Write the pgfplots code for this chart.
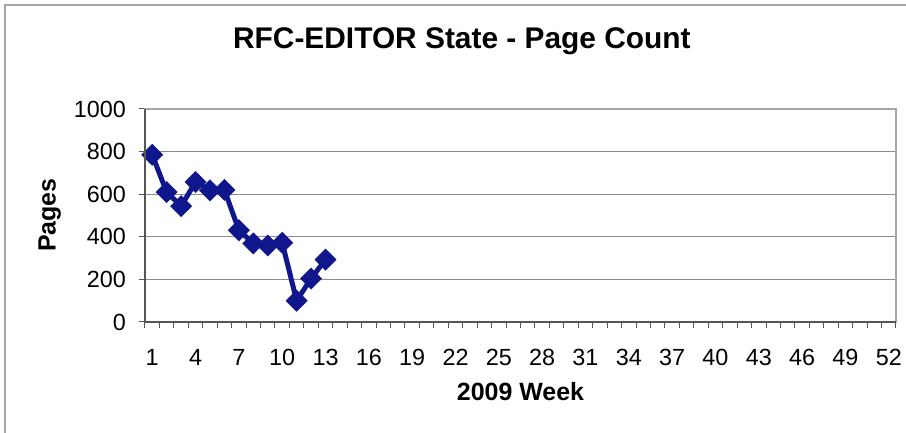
\documentclass[border=0pt]{standalone}
\usepackage{fontspec}
\setmainfont{Liberation Sans}
\usepackage{pgfplots}
\usepackage{pgfplotstable}
\pgfplotsset{compat=1.18}
\definecolor{navy}{HTML}{10178C}
\definecolor{gridgray}{HTML}{8C8C8C}
\definecolor{axisgray}{HTML}{555555}
\definecolor{framegray}{HTML}{A6A6A6}

% weekly page count in RFC-EDITOR state
\pgfplotstableread{
week pages
1 785
2 610
3 544
4 657
5 618
6 620
7 431
8 369
9 359
10 372
11 100
12 204
13 293
}\pagecount

\begin{document}
\begin{tikzpicture}
\useasboundingbox (0,0) rectangle (18.12cm,8.66cm);
\draw[framegray, line width=0.03cm] (0.1cm,0) -- (0.1cm,8.56cm) -- (18.12cm,8.56cm);
\begin{axis}[
    at={(2.9cm,2.22cm)}, anchor=south west,
    scale only axis, width=15.02cm, height=4.26cm,
    xmin=0.5, xmax=52.5, ymin=0, ymax=1000,
    xtick={1,4,...,52},
    minor xtick={0.5,1.5,...,52.5},
    ytick={0,200,...,1000},
    minor ytick={0,200,...,1000},
    xtick pos=bottom, ytick pos=left,
    tick align=outside,
    major tick length=0pt, minor tick length=0.12cm,
    tick style={axisgray, line width=0.02cm},
    /pgf/number format/assume math mode=true,
    /pgf/number format/1000 sep={},
    xticklabel style={font=\fontsize{13.3}{15}\selectfont, yshift=-0.42cm},
    yticklabel style={font=\fontsize{13.3}{15}\selectfont, xshift=-0.26cm},
    title={RFC-EDITOR State - Page Count},
    title style={font=\bfseries\fontsize{17}{20}\selectfont,
        at={(axis description cs:0.422,1.268)}, anchor=center},
    xlabel={2009 Week},
    xlabel style={font=\bfseries\fontsize{14.2}{16}\selectfont,
        at={(axis description cs:0.5,-0.329)}, anchor=center},
    ylabel={Pages},
    ylabel style={font=\bfseries\fontsize{14.2}{16}\selectfont,
        at={(axis description cs:-0.127,0.502)}, anchor=center},
    ymajorgrids,
    major grid style={gridgray, line width=0.025cm},
    axis line style={framegray, line width=0.04cm},
    clip=false,
    after end axis/.code={
        \draw[axisgray, line width=0.04cm]
            (rel axis cs:0,1) -- (rel axis cs:0,0) -- (rel axis cs:1,0);
    },
]
\addplot[navy, line width=0.1cm, mark=square*, mark size=0.15cm,
    mark options={rotate=45, solid, fill=navy, draw=navy, line width=0.01cm}]
    table[x=week, y=pages] {\pagecount};
\end{axis}
\end{tikzpicture}
\end{document}
